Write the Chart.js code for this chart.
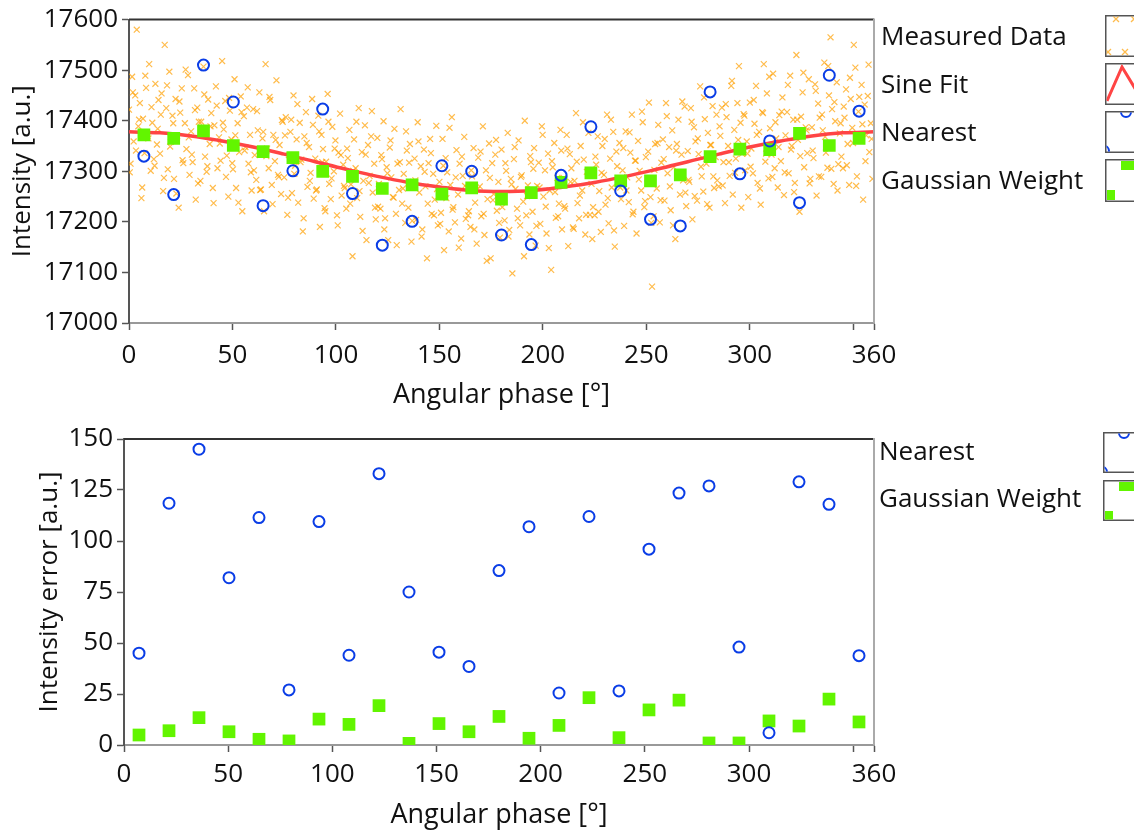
<!DOCTYPE html>
<html>
<head>
<meta charset="utf-8">
<script src="https://cdn.jsdelivr.net/npm/chart.js@4.4.1/dist/chart.umd.min.js"></script>
<style>
  html, body { margin: 0; padding: 0; background: #fff; }
  .panel { position: absolute; left: 0; width: 1134px; height: 416px; }
</style>
</head>
<body>
<div class="panel" style="top:0"><canvas id="topChart" width="1134" height="416"></canvas></div>
<div class="panel" style="top:416px"><canvas id="bottomChart" width="1134" height="416"></canvas></div>
<script>
// phase bins used for the Nearest / Gaussian Weight estimates
var phaseBins = [7.2, 21.6, 36, 50.4, 64.8, 79.2, 93.6, 108, 122.4, 136.8, 151.2, 165.6, 180,
    194.4, 208.8, 223.2, 237.6, 252, 266.4, 280.8, 295.2, 309.6, 324, 338.4, 352.8];

var nearestIntensity = [17330, 17254, 17510, 17437, 17232, 17301, 17423, 17256, 17154, 17201, 17311, 17300, 17174,
    17155, 17292, 17388, 17261, 17205, 17192, 17457, 17295, 17360, 17238, 17490, 17419];

var gaussianIntensity = [17372, 17365, 17380, 17351, 17339, 17327, 17300, 17290, 17266, 17273, 17255, 17267, 17245,
    17258, 17278, 17297, 17281, 17281, 17293, 17329, 17344, 17343, 17375, 17351, 17365];

var nearestError = [45, 118.5, 145, 82, 111.5, 27, 109.5, 44, 133, 75, 45.5, 38.5, 85.5,
    107, 25.5, 112, 26.5, 96, 123.5, 127, 48, 6, 129, 118, 43.8];

var gaussianError = [4.9, 7, 13.4, 6.5, 2.8, 2, 12.7, 10.1, 19.3, 0.8, 10.5, 6.5, 14,
    3.3, 9.6, 23.2, 3.6, 17.2, 22, 1, 1, 11.8, 9.3, 22.5, 11.3];

// sine fit read every 15 deg
var fitPhase = [0, 15, 30, 45, 60, 75, 90, 105, 120, 135, 150, 165, 180, 195, 210, 225, 240, 255, 270, 285, 300, 315, 330, 345, 360];
var fitIntensity = [17378, 17376, 17370, 17360, 17348, 17334, 17319, 17304, 17290, 17278, 17269, 17262, 17260,
    17262, 17269, 17278, 17290, 17304, 17319, 17334, 17348, 17360, 17370, 17376, 17378];

// measured samples, first pass: one every 0.75 deg starting at 0
var measuredStep = 0.75;
var measuredIntensity = [
    17422, 17315, 17487, 17359, 17450, 17580, 17389, 17435, 17247, 17404, 17336, 17465, 17370, 17512, 17301, 17396, 17324, 17473, 17353, 17441,
    17335, 17454, 17261, 17550, 17425, 17304, 17497, 17358, 17410, 17285, 17443, 17370, 17228, 17416, 17464, 17316, 17395, 17344, 17490, 17293,
    17379, 17318, 17464, 17244, 17426, 17398, 17281, 17373, 17507, 17329, 17299, 17442, 17354, 17415, 17267, 17391, 17468, 17306, 17367, 17321,
    17518, 17383, 17439, 17331, 17250, 17420, 17363, 17304, 17482, 17267, 17395, 17338, 17448, 17221, 17409, 17348, 17426, 17315, 17372, 17262,
    17423, 17332, 17283, 17381, 17456, 17264, 17365, 17221, 17512, 17345, 17306, 17441, 17273, 17372, 17320, 17480, 17293, 17352, 17255, 17398,
    17288, 17407, 17214, 17332, 17378, 17257, 17450, 17311, 17363, 17238, 17396, 17323, 17181, 17369, 17417, 17269, 17348, 17297, 17443, 17246,
    17325, 17264, 17410, 17190, 17372, 17344, 17227, 17319, 17453, 17275, 17245, 17388, 17300, 17361, 17213, 17337, 17414, 17252, 17313, 17267,
    17226, 17326, 17382, 17274, 17132, 17363, 17306, 17247, 17425, 17210, 17338, 17281, 17391, 17164, 17352, 17291, 17369, 17258, 17315, 17205,
    17366, 17275, 17226, 17324, 17399, 17207, 17308, 17164, 17347, 17288, 17249, 17384, 17216, 17315, 17263, 17423, 17236, 17295, 17198, 17341,
    17228, 17354, 17161, 17279, 17325, 17204, 17397, 17258, 17310, 17185, 17343, 17270, 17128, 17316, 17364, 17216, 17295, 17244, 17390, 17193,
    17279, 17218, 17364, 17144, 17326, 17298, 17181, 17273, 17407, 17229, 17199, 17342, 17254, 17315, 17167, 17291, 17368, 17206, 17267, 17221,
    17190, 17290, 17346, 17238, 17157, 17327, 17270, 17211, 17389, 17174, 17302, 17245, 17355, 17128, 17316, 17255, 17333, 17222, 17279, 17169,
    17343, 17252, 17203, 17301, 17376, 17184, 17285, 17098, 17324, 17265, 17226, 17361, 17193, 17292, 17240, 17400, 17213, 17272, 17175, 17318,
    17220, 17346, 17153, 17271, 17317, 17196, 17389, 17250, 17302, 17177, 17335, 17262, 17105, 17308, 17356, 17208, 17287, 17236, 17382, 17185,
    17287, 17226, 17372, 17152, 17334, 17306, 17189, 17281, 17415, 17237, 17207, 17350, 17262, 17323, 17175, 17299, 17376, 17214, 17275, 17229,
    17213, 17313, 17369, 17261, 17180, 17350, 17293, 17234, 17412, 17197, 17325, 17268, 17378, 17151, 17339, 17278, 17356, 17245, 17302, 17192,
    17379, 17288, 17239, 17337, 17412, 17220, 17321, 17177, 17360, 17301, 17262, 17397, 17229, 17328, 17276, 17436, 17249, 17072, 17211, 17354,
    17266, 17392, 17199, 17317, 17363, 17242, 17435, 17296, 17348, 17223, 17381, 17308, 17166, 17354, 17402, 17254, 17333, 17282, 17428, 17231,
    17340, 17279, 17425, 17205, 17387, 17359, 17242, 17334, 17468, 17290, 17260, 17403, 17315, 17376, 17228, 17352, 17429, 17267, 17328, 17282,
    17270, 17370, 17426, 17318, 17237, 17407, 17350, 17291, 17469, 17254, 17382, 17325, 17435, 17508, 17396, 17335, 17413, 17302, 17359, 17249,
    17436, 17345, 17296, 17394, 17469, 17277, 17378, 17234, 17417, 17512, 17319, 17454, 17286, 17385, 17333, 17493, 17306, 17365, 17268, 17411,
    17320, 17446, 17253, 17371, 17417, 17296, 17489, 17350, 17402, 17277, 17530, 17362, 17220, 17408, 17456, 17308, 17387, 17336, 17482, 17285,
    17387, 17326, 17472, 17252, 17434, 17406, 17289, 17381, 17515, 17337, 17307, 17450, 17565, 17423, 17275, 17399, 17476, 17314, 17375, 17329,
    17306, 17406, 17462, 17354, 17273, 17443, 17386, 17550, 17505, 17290, 17418, 17361, 17471, 17244, 17432, 17371, 17449, 17338, 17395, 17285
];

// second pass: one every 1.5 deg starting at 0.375
var measuredStartB = 0.375;
var measuredStepB = 1.5;
var measuredIntensityB = [
    17298, 17456, 17341, 17402, 17268, 17489, 17365, 17427, 17311, 17384,
    17412, 17287, 17470, 17349, 17395, 17256, 17438, 17322, 17501, 17367,
    17333, 17421, 17276, 17398, 17452, 17310, 17389, 17237, 17430, 17355,
    17396, 17289, 17445, 17316, 17371, 17238, 17417, 17341, 17466, 17298,
    17302, 17419, 17263, 17378, 17330, 17447, 17235, 17362, 17289, 17401,
    17371, 17248, 17402, 17295, 17433, 17318, 17207, 17356, 17281, 17392,
    17262, 17379, 17318, 17221, 17398, 17286, 17345, 17193, 17332, 17271,
    17345, 17236, 17301, 17398, 17261, 17182, 17333, 17277, 17419, 17228,
    17230, 17332, 17185, 17296, 17361, 17248, 17154, 17318, 17266, 17379,
    17317, 17202, 17282, 17359, 17171, 17299, 17236, 17336, 17213, 17265,
    17196, 17311, 17247, 17386, 17224, 17288, 17149, 17329, 17271, 17213,
    17302, 17185, 17264, 17339, 17216, 17123, 17287, 17243, 17362, 17198,
    17229, 17316, 17171, 17274, 17348, 17207, 17289, 17132, 17251, 17330,
    17305, 17192, 17268, 17372, 17230, 17148, 17320, 17259, 17211, 17341,
    17231, 17345, 17279, 17186, 17319, 17252, 17397, 17214, 17301, 17166,
    17329, 17220, 17297, 17364, 17247, 17402, 17183, 17310, 17268, 17346,
    17262, 17377, 17215, 17321, 17284, 17418, 17241, 17339, 17198, 17303,
    17356, 17243, 17324, 17409, 17270, 17193, 17341, 17295, 17438, 17258,
    17283, 17398, 17251, 17365, 17309, 17446, 17235, 17352, 17290, 17412,
    17389, 17272, 17433, 17318, 17479, 17297, 17362, 17228, 17410, 17335,
    17309, 17441, 17372, 17266, 17415, 17335, 17487, 17289, 17397, 17348,
    17418, 17298, 17471, 17343, 17259, 17402, 17330, 17495, 17381, 17276,
    17341, 17459, 17290, 17412, 17368, 17508, 17305, 17437, 17262, 17395,
    17428, 17312, 17485, 17356, 17271, 17447, 17393, 17320, 17511, 17364
];

var phaseTicks = [0, 50, 100, 150, 200, 250, 300, 350, 360];
var intensityTicks = [17000, 17100, 17200, 17300, 17400, 17500, 17600];
var errorTicks = [0, 25, 50, 75, 100, 125, 150];

var FONT = "'Open Sans', 'Noto Sans', sans-serif";
var ORANGE = 'rgba(255, 160, 0, 0.7)';
var BLUE = '#0a3de6';
var GREEN = '#62f500';
var RED = '#ff4444';

var pairs = function (xs, ys) {
    return ys.map(function (y, i) { return {x: xs[i], y: y}; });
};

var measuredPoints = measuredIntensity.map(function (v, i) { return {x: i * measuredStep, y: v}; })
    .concat(measuredIntensityB.map(function (v, i) { return {x: measuredStartB + i * measuredStepB, y: v}; }));

// legend swatch drawings (little cut-off boxes on the right)
var drawCrossIcon = function (ctx, x, y) {
    ctx.strokeStyle = ORANGE;
    ctx.lineWidth = 1.3;
    [[11, 4], [29, 4], [3, 37], [20, 37]].forEach(function (p) {
        var cx = x + p[0], cy = y + p[1], r = 3;
        ctx.beginPath();
        ctx.moveTo(cx - r, cy - r); ctx.lineTo(cx + r, cy + r);
        ctx.moveTo(cx - r, cy + r); ctx.lineTo(cx + r, cy - r);
        ctx.stroke();
    });
};
var drawSineIcon = function (ctx, x, y) {
    ctx.strokeStyle = RED;
    ctx.lineWidth = 3;
    ctx.beginPath();
    ctx.moveTo(x + 2, y + 38);
    ctx.lineTo(x + 17, y + 4);
    ctx.lineTo(x + 34, y + 32);
    ctx.stroke();
};
var drawCircleIcon = function (ctx, x, y) {
    ctx.strokeStyle = BLUE;
    ctx.lineWidth = 2;
    ctx.beginPath();
    ctx.arc(x + 21, y + 1, 5, 0, Math.PI * 2);
    ctx.stroke();
    ctx.beginPath();
    ctx.arc(x - 1, y + 40, 5, 0, Math.PI * 2);
    ctx.stroke();
};
var drawSquareIcon = function (ctx, x, y) {
    ctx.fillStyle = GREEN;
    ctx.fillRect(x + 16, y + 2, 16, 9);
    ctx.fillRect(x + 2, y + 31, 8, 10);
};

// items kept out of chart options so the option resolver does not touch the functions
var makeLegend = function (items) {
    return {
        id: 'sideLegend',
        afterDraw: function (chart) {
            var ctx = chart.ctx;
            items.forEach(function (it) {
                ctx.save();
                ctx.font = '26px ' + FONT;
                ctx.fillStyle = '#111';
                ctx.textBaseline = 'middle';
                ctx.textAlign = 'left';
                ctx.fillText(it.label, it.tx, it.ty);
                ctx.fillStyle = '#fff';
                ctx.fillRect(it.bx, it.by, 40, it.bh);
                ctx.strokeStyle = '#555';
                ctx.lineWidth = 1.5;
                ctx.strokeRect(it.bx + 0.75, it.by + 0.75, 40, it.bh - 1.5);
                ctx.beginPath();
                ctx.rect(it.bx + 1.5, it.by + 1.5, 38, it.bh - 3);
                ctx.clip();
                it.icon(ctx, it.bx, it.by);
                ctx.restore();
            });
        }
    };
};

// top + right border of the plot area
var frame = {
    id: 'frame',
    afterDraw: function (chart) {
        var a = chart.chartArea;
        var ctx = chart.ctx;
        ctx.save();
        ctx.lineWidth = 2;
        ctx.strokeStyle = '#333';
        ctx.beginPath();
        ctx.moveTo(a.left, a.top);
        ctx.lineTo(a.right, a.top);
        ctx.stroke();
        ctx.strokeStyle = '#aaa';
        ctx.beginPath();
        ctx.moveTo(a.right, a.top - 1);
        ctx.lineTo(a.right, a.bottom);
        ctx.stroke();
        ctx.restore();
    }
};

var phaseAxis = function (axisHeight, tickPad, titlePad) {
    return {
        type: 'linear',
        min: 0,
        max: 360,
        afterBuildTicks: function (scale) {
            scale.ticks = phaseTicks.map(function (v) { return {value: v}; });
        },
        afterFit: function (scale) { scale.height = axisHeight; },
        ticks: {
            autoSkip: false,
            maxRotation: 0,
            padding: tickPad,
            color: '#111',
            font: {family: FONT, size: 26},
            callback: function (v) { return v === 350 ? '' : String(v); }
        },
        grid: {drawOnChartArea: false, drawTicks: true, tickLength: 7, tickWidth: 1.5, tickColor: '#555'},
        border: {display: true, color: '#999', width: 2},
        title: {display: true, text: 'Angular phase [°]', color: '#111', font: {family: FONT, size: 27}, padding: {top: 0, bottom: titlePad}}
    };
};

var valueAxis = function (ticks, label, width, titlePad) {
    return {
        type: 'linear',
        min: ticks[0],
        max: ticks[ticks.length - 1],
        afterBuildTicks: function (scale) {
            scale.ticks = ticks.map(function (v) { return {value: v}; });
        },
        afterFit: function (scale) { scale.width = width; },
        ticks: {
            padding: 4, color: '#111', font: {family: FONT, size: 26},
            callback: function (v) { return String(v); }
        },
        grid: {drawOnChartArea: false, drawTicks: true, tickLength: 7, tickWidth: 1.5, tickColor: '#555'},
        border: {display: true, color: '#555', width: 2},
        title: {display: true, text: label, color: '#111', font: {family: FONT, size: 26}, padding: {top: titlePad, bottom: 0}}
    };
};

var nearestStyle = {
    pointStyle: 'circle', pointRadius: 5.5,
    pointBorderColor: BLUE, pointBorderWidth: 2, pointBackgroundColor: 'rgba(0,0,0,0)',
    clip: 0
};
var gaussianStyle = {
    pointStyle: 'rect', pointRadius: 9,
    pointBorderWidth: 0, pointBorderColor: GREEN, pointBackgroundColor: GREEN,
    clip: 0
};

var topChart = new Chart(document.getElementById('topChart'), {
    type: 'scatter',
    data: {
        datasets: [
            Object.assign({label: 'Nearest', data: pairs(phaseBins, nearestIntensity)}, nearestStyle),
            Object.assign({label: 'Gaussian Weight', data: pairs(phaseBins, gaussianIntensity)}, gaussianStyle),
            {
                label: 'Sine Fit',
                type: 'line',
                data: pairs(fitPhase, fitIntensity),
                borderColor: RED, borderWidth: 3.5, pointRadius: 0, tension: 0.4, fill: false,
                clip: 0
            },
            {
                label: 'Measured Data',
                data: measuredPoints,
                pointStyle: 'crossRot', pointRadius: 4.2,
                pointBorderColor: ORANGE, pointBorderWidth: 1.2, pointBackgroundColor: ORANGE,
                clip: 0
            }
        ]
    },
    options: {
        responsive: false,
        animation: false,
        events: [],
        layout: {padding: {left: 0, right: 260, top: 18, bottom: 0}},
        scales: {
            x: phaseAxis(93, 10, 4),
            y: valueAxis(intensityTicks, 'Intensity [a.u.]', 129, 7)
        },
        plugins: {legend: {display: false}, tooltip: {enabled: false}}
    },
    plugins: [frame, makeLegend([
        {label: 'Measured Data', tx: 881, ty: 38, bx: 1105, by: 15, bh: 42, icon: drawCrossIcon},
        {label: 'Sine Fit', tx: 881, ty: 86, bx: 1105, by: 63, bh: 42, icon: drawSineIcon},
        {label: 'Nearest', tx: 881, ty: 134, bx: 1105, by: 111, bh: 42, icon: drawCircleIcon},
        {label: 'Gaussian Weight', tx: 881, ty: 182, bx: 1105, by: 159, bh: 43, icon: drawSquareIcon}
    ])]
});

var bottomChart = new Chart(document.getElementById('bottomChart'), {
    type: 'scatter',
    data: {
        datasets: [
            Object.assign({label: 'Nearest', data: pairs(phaseBins, nearestError)}, nearestStyle),
            Object.assign({label: 'Gaussian Weight', data: pairs(phaseBins, gaussianError)}, gaussianStyle)
        ]
    },
    options: {
        responsive: false,
        animation: false,
        events: [],
        layout: {padding: {left: 0, right: 260, top: 23, bottom: 0}},
        scales: {
            x: phaseAxis(87, 7, 0),
            y: valueAxis(errorTicks, 'Intensity error [a.u.]', 124, 34)
        },
        plugins: {legend: {display: false}, tooltip: {enabled: false}}
    },
    plugins: [frame, makeLegend([
        {label: 'Nearest', tx: 879, ty: 37, bx: 1103, by: 16, bh: 41, icon: drawCircleIcon},
        {label: 'Gaussian Weight', tx: 879, ty: 84, bx: 1103, by: 64, bh: 41, icon: drawSquareIcon}
    ])]
});
</script>
</body>
</html>
